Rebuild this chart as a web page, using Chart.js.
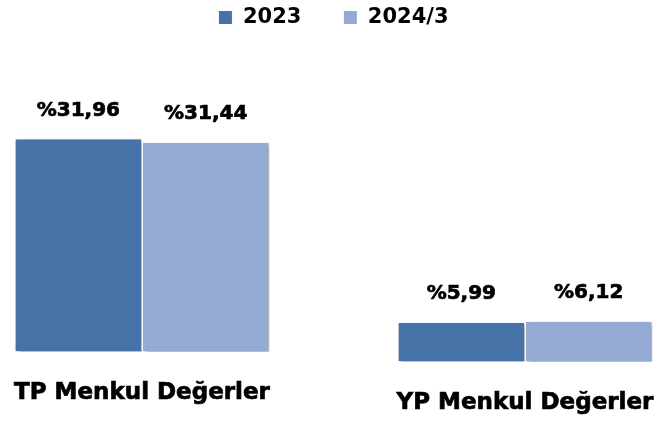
<!DOCTYPE html>
<html>
<head>
<meta charset="utf-8">
<script src="https://cdn.jsdelivr.net/npm/chart.js@4/dist/chart.umd.min.js"></script>
<style>
  html, body { margin: 0; padding: 0; background: #fff; }
  #wrap { width: 656px; height: 422px; }
</style>
</head>
<body>
<div id="wrap"><canvas id="chart" width="656" height="422"></canvas></div>
<script>
// categories and series
const categories = ["TP Menkul Değerler", "YP Menkul Değerler"];
const seriesNames = ["2023", "2024/3"];
const values2023 = [31.96, 5.99];
const values2024 = [31.44, 6.12];

const colors = ["#4572A7", "#95AAD2"];
const font = "'DejaVu Sans', sans-serif";

// each category sits on its own value axis (the two panels have different baselines)
const axisIds = ["y", "y2"];

function pct(v) {
  return "%" + v.toFixed(2).replace(".", ",");
}

const datasets = [];
categories.forEach((cat, ci) => {
  [values2023, values2024].forEach((vals, si) => {
    datasets.push({
      label: seriesNames[si],
      data: categories.map((c, k) => (k === ci ? vals[k] : null)),
      yAxisID: axisIds[ci],
      backgroundColor: colors[si],
      borderColor: "#ffffff",
      borderWidth: 1,
      borderSkipped: false,
      skipNull: true,
      clip: false,
      categoryPercentage: 0.665,
      barPercentage: 1,
    });
  });
});

const barShadow = {
  id: "barShadow",
  beforeDatasetsDraw(chart) {
    const ctx = chart.ctx;
    ctx.save();
    ctx.shadowColor = "rgba(0,0,0,0.35)";
    ctx.shadowBlur = 4;
    ctx.shadowOffsetX = 2;
    ctx.shadowOffsetY = 2;
  },
  afterDatasetsDraw(chart) {
    chart.ctx.restore();
  },
};

// draw text a touch heavier, the original uses a very bold face
function heavyText(ctx, txt, x, y) {
  ctx.lineWidth = 0.7;
  ctx.strokeStyle = "#000";
  ctx.strokeText(txt, x, y);
  ctx.fillText(txt, x, y);
}

const valueLabels = {
  id: "valueLabels",
  afterDatasetsDraw(chart) {
    const ctx = chart.ctx;
    ctx.save();
    ctx.font = "bold 20px " + font;
    ctx.fillStyle = "#000";
    ctx.textAlign = "center";
    ctx.textBaseline = "middle";
    chart.data.datasets.forEach((ds, di) => {
      const meta = chart.getDatasetMeta(di);
      meta.data.forEach((bar, i) => {
        const v = ds.data[i];
        if (v == null) return;
        heavyText(ctx, pct(v), bar.x, bar.y - 28);
      });
    });
    ctx.restore();
  },
};

// category names under each panel, the right one sits a little lower
const categoryLabels = {
  id: "categoryLabels",
  afterDraw(chart) {
    const ctx = chart.ctx;
    const x = chart.scales.x;
    const bottom = chart.chartArea.bottom;
    const drop = [37, 47];
    ctx.save();
    ctx.font = "bold 23px " + font;
    ctx.fillStyle = "#000";
    ctx.textAlign = "center";
    ctx.textBaseline = "alphabetic";
    categories.forEach((c, i) => {
      heavyText(ctx, c, x.getPixelForValue(i), bottom + drop[i]);
    });
    ctx.restore();
  },
};

new Chart(document.getElementById("chart"), {
  type: "bar",
  data: { labels: categories, datasets: datasets },
  options: {
    responsive: false,
    animation: false,
    layout: { padding: { top: -35, left: 142, right: 131, bottom: 60 } },
    plugins: {
      legend: {
        position: "top",
        labels: {
          filter: (item) => item.datasetIndex < 2,
          boxWidth: 14,
          boxHeight: 14,
          padding: 42,
          color: "#000",
          font: { family: font, size: 21, weight: "bold" },
        },
      },
      tooltip: { enabled: false },
    },
    scales: {
      x: { display: false, offset: false },
      y: { display: false, min: -1.5, max: 47 },
      y2: { display: false, min: 0, max: 48.5 },
    },
  },
  plugins: [barShadow, valueLabels, categoryLabels],
});
</script>
</body>
</html>
